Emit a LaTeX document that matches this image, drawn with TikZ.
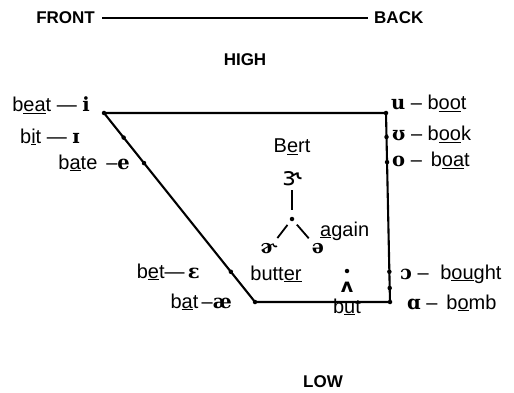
\documentclass[tikz,border=0pt]{standalone}
\usepackage{fontspec}
\setmainfont{Liberation Sans}
\newfontfamily\ipafont{DejaVu Serif}
\newfontfamily\ipasans{DejaVu Sans}
\usetikzlibrary{calc}
\newcommand\myul[1]{\underline{#1}}
\newcommand\ip[1]{{\fontsize{19.5}{19.5}\selectfont\ipafont\bfseries #1}}
\tikzset{
  lab/.style={font=\fontsize{20}{20}\selectfont, inner sep=0pt},
  head/.style={font=\fontsize{17}{17}\selectfont\bfseries, inner sep=0pt},
  ipa/.style={font=\fontsize{19}{19}\selectfont\ipafont\bfseries, inner sep=0pt},
  pt/.style={circle, fill, inner sep=0pt, minimum size=4.5pt},
  edgeline/.style={line width=2.1pt},
  stem/.style={line width=1.8pt},
}
\begin{document}
\begin{tikzpicture}[x=1pt,y=-1pt]
\useasboundingbox (0,0) rectangle (514,393);
% header
\node[head, anchor=east] (front) at (95,18) {FRONT};
\node[head, anchor=west] (back) at (374,18) {BACK};
\draw[line width=1.2pt] (front.east) ++(7,0) coordinate (fa) (back.west) ++(-6,0) coordinate (ba);
\draw[line width=1.2pt] (fa) -- (ba);
\node[head] (high) at (245,60) {HIGH};
\node[head] (low) at (323,382) {LOW};
% trapezoid
\coordinate (TL) at (104,113);
\coordinate (TR) at (386,113);
\coordinate (BR) at (390,302);
\coordinate (BL) at (255,302);
\draw[edgeline, line join=round] (TL) -- (TR) -- (BR) -- (BL) -- cycle;
\node[pt] (p-i) at (TL) {};
\node[pt] (p-u) at (TR) {};
\node[pt] (p-a) at (BR) {};
\node[pt] (p-ae) at (BL) {};
\node[pt] (p-I) at ($(TL)!0.13!(BL)$) {};
\node[pt] (p-e) at ($(TL)!0.265!(BL)$) {};
\node[pt] (p-eps) at ($(TL)!0.84!(BL)$) {};
\node[pt] (p-U) at ($(TR)!0.127!(BR)$) {};
\node[pt] (p-o) at ($(TR)!0.26!(BR)$) {};
\node[pt] (p-oo) at ($(TR)!0.84!(BR)$) {};
\node[pt] (p-x) at ($(TR)!0.926!(BR)$) {};
% left labels
\node[lab, anchor=base east] (l-i) at (90,112) {b\myul{ea}t --- \ip{i}};
\node[lab, anchor=base east] (l-I) at (80,143) {b\myul{i}t --- \ip{ɪ}};
\node[lab, anchor=base east] (l-e) at (130,169) {b\myul{a}te \,--\ip{e}};
\node[lab, anchor=base east] (l-eps) at (200,278) {b\myul{e}t---\,\ip{ɛ}};
\node[lab, anchor=base east] (l-ae) at (232,308) {b\myul{a}t\,--\ip{æ}};
% right labels
\node[lab, anchor=base west] (r-u) at (391,110) {\ip{u} -- b\myul{oo}t};
\node[lab, anchor=base west] (r-U) at (392,141) {\ip{ʊ} -- b\myul{oo}k};
\node[lab, anchor=base west] (r-o) at (392,167) {\ip{o} -- \,b\myul{oa}t};
\node[lab, anchor=base west] (r-oo) at (400,279) {\ip{ɔ} -- \hspace{6pt}b\myul{ou}ght};
\node[lab, anchor=base west] (r-a) at (407,309) {\ip{ɑ} -- \,b\myul{o}mb};
% central vowels
\node[lab, anchor=base] (bert) at (292,153) {B\myul{e}rt};
\node[font=\fontsize{25}{25}\selectfont\ipasans, inner sep=0pt] (er) at (292,179) {ɝ};
\node[pt] (mid) at (292,219) {};
\node[ipa] (schr) at (269,249) {ɚ};
\node[ipa] (schwa) at (318,249) {ə};
\node[lab, anchor=base west] (again) at (320,236) {\myul{a}gain};
\node[lab, anchor=base] (butter) at (276,280) {butt\myul{er}};
\draw[stem, shorten <=4pt, shorten >=7pt] (er) -- (mid);
\draw[stem, shorten <=5pt, shorten >=7pt] (mid) -- (schr);
\draw[stem, shorten <=5pt, shorten >=7pt] (mid) -- (schwa);
\node[pt] (p-v) at (347,271) {};
\node[font=\fontsize{19}{19}\selectfont\ipasans\bfseries, inner sep=0pt] (wedge) at (347,287) {ʌ};
\node[lab, anchor=base] (but) at (347,313) {b\myul{u}t};
\end{tikzpicture}
\end{document}
